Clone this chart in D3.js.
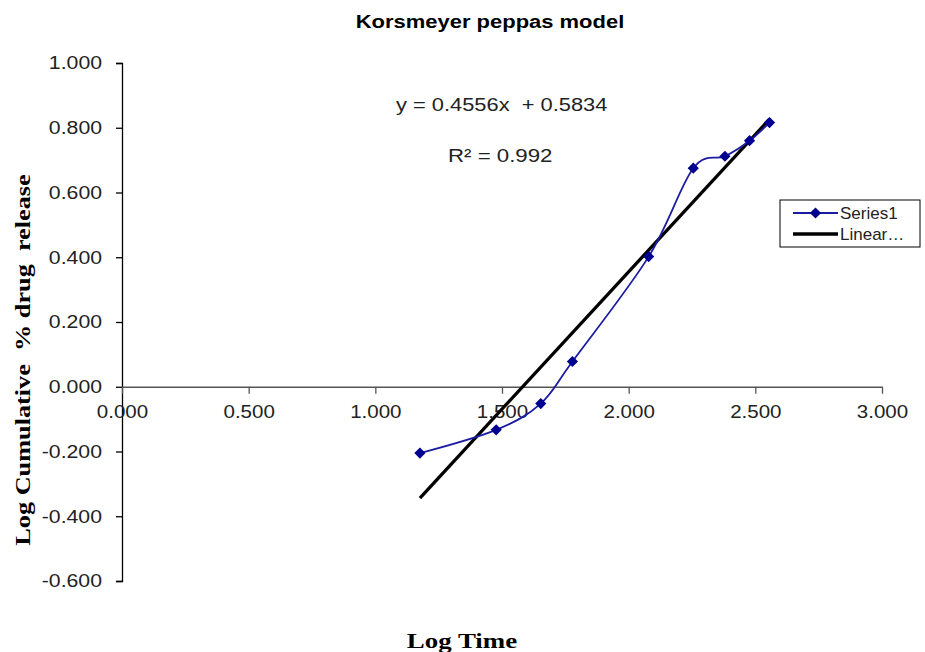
<!DOCTYPE html>
<html>
<head>
<meta charset="utf-8">
<script src="https://cdn.jsdelivr.net/npm/d3@7"></script>
<style>
  body { margin: 0; background: #fff; }
  text { font-family: "Liberation Sans", Arial, sans-serif; }
</style>
</head>
<body>
<div id="chart"></div>
<script>
// log time vs log cumulative % drug release
var logTime = [1.176, 1.477, 1.653, 1.778, 2.079, 2.255, 2.380, 2.477, 2.556];
var logRelease = [-0.205, -0.133, -0.052, 0.078, 0.402, 0.675, 0.712, 0.760, 0.816];
var xTicks = [0, 0.5, 1, 1.5, 2, 2.5, 3];
var yTicks = [-0.6, -0.4, -0.2, 0, 0.2, 0.4, 0.6, 0.8, 1.0];
var eqLabel = "y = 0.4556x  + 0.5834";
var r2Label = "R\u00b2 = 0.992";

var width = 925, height = 652;
var svg = d3.select("#chart").append("svg")
    .attr("width", width)
    .attr("height", height);

var x = d3.scaleLinear().domain([0, 3]).range([122, 882]);
var y = d3.scaleLinear().domain([-0.6, 1.0]).range([581, 63]);

var data = logTime.map(function(d, i){ return {x: d, y: logRelease[i]}; });

// the reference text is a bit wide, so stretch it horizontally
function widen(sel, k){
  sel.each(function(){
    var len = this.getComputedTextLength();
    d3.select(this).attr("textLength", len * k).attr("lengthAdjust", "spacingAndGlyphs");
  });
}

var fmt = function(d){ return d3.format(".3f")(d).replace("\u2212", "-"); };

// y axis
svg.append("g")
    .attr("transform", "translate(" + x(0) + ",0)")
    .call(d3.axisLeft(y).tickValues(yTicks).tickSize(6).tickPadding(14).tickFormat(fmt))
    .call(function(g){
      g.select(".domain").attr("stroke", "#000").attr("stroke-width", 1.3);
      g.selectAll(".tick line").attr("stroke", "#000").attr("stroke-width", 1.3);
      g.selectAll("text").attr("font-size", 18).attr("fill", "#222")
        .attr("font-family", "Liberation Sans, Arial, sans-serif")
        .call(widen, 1.18);
    });

// x axis at y = 0
svg.append("g")
    .attr("transform", "translate(0," + y(0) + ")")
    .call(d3.axisBottom(x).tickValues(xTicks).tickSize(7).tickSizeOuter(0).tickPadding(11).tickFormat(fmt))
    .call(function(g){
      g.select(".domain").attr("stroke", "#555").attr("stroke-width", 1.3);
      g.selectAll(".tick line").attr("stroke", "#555").attr("stroke-width", 1.3);
      g.selectAll("text").attr("font-size", 19).attr("fill", "#222")
        .attr("font-family", "Liberation Sans, Arial, sans-serif")
        .call(widen, 1.08);
    });

// linear trendline (least squares)
var mx = d3.mean(logTime), my = d3.mean(logRelease);
var sxy = d3.sum(data, function(d){ return (d.x - mx) * (d.y - my); });
var sxx = d3.sum(data, function(d){ return (d.x - mx) * (d.x - mx); });
var slope = sxy / sxx, icept = my - slope * mx;
var xr = d3.extent(logTime);

svg.append("line")
    .attr("x1", x(xr[0])).attr("y1", y(slope * xr[0] + icept))
    .attr("x2", x(xr[1])).attr("y2", y(slope * xr[1] + icept))
    .attr("stroke", "#000")
    .attr("stroke-width", 3.3);

// smoothed series line
var line = d3.line()
    .x(function(d){ return x(d.x); })
    .y(function(d){ return y(d.y); })
    .curve(d3.curveCardinal.tension(0));

svg.append("path")
    .datum(data)
    .attr("d", line)
    .attr("fill", "none")
    .attr("stroke", "#1c1ca3")
    .attr("stroke-width", 1.8);

var diamond = d3.symbol().type(d3.symbolDiamond2).size(80);
svg.selectAll(".pt")
    .data(data)
    .enter().append("path")
    .attr("class", "pt")
    .attr("transform", function(d){ return "translate(" + x(d.x) + "," + y(d.y) + ")"; })
    .attr("d", diamond)
    .attr("fill", "#000090");

// title and labels
svg.append("text")
    .attr("x", 490).attr("y", 28)
    .attr("text-anchor", "middle")
    .attr("font-size", 18).attr("font-weight", "bold")
    .text("Korsmeyer peppas model")
    .call(widen, 1.22);

svg.append("text")
    .attr("x", 396).attr("y", 111)
    .attr("font-size", 19).attr("fill", "#222")
    .style("white-space", "pre")
    .text(eqLabel)
    .call(widen, 1.15);

svg.append("text")
    .attr("x", 448).attr("y", 162)
    .attr("font-size", 19).attr("fill", "#222")
    .text(r2Label)
    .call(widen, 1.17);

svg.append("text")
    .attr("x", 462).attr("y", 648)
    .attr("text-anchor", "middle")
    .style("font-family", "'Liberation Serif', 'Times New Roman', serif")
    .attr("font-size", 21).attr("font-weight", "bold")
    .text("Log Time")
    .call(widen, 1.28);

svg.append("text")
    .attr("transform", "translate(30,360) rotate(-90)")
    .attr("text-anchor", "middle")
    .style("font-family", "'Liberation Serif', 'Times New Roman', serif")
    .style("white-space", "pre")
    .attr("font-size", 21).attr("font-weight", "bold")
    .text("Log Cumulative  % drug  release")
    .call(widen, 1.25);

// legend
var lg = svg.append("g").attr("transform", "translate(780,200)");
lg.append("rect")
    .attr("width", 140).attr("height", 47)
    .attr("fill", "#fff").attr("stroke", "#000").attr("stroke-width", 1);
lg.append("line")
    .attr("x1", 13).attr("x2", 58).attr("y1", 13).attr("y2", 13)
    .attr("stroke", "#1c1ca3").attr("stroke-width", 1.8);
lg.append("path")
    .attr("transform", "translate(35.5,13)")
    .attr("d", diamond)
    .attr("fill", "#000090");
lg.append("text").attr("x", 60).attr("y", 19).attr("font-size", 17).attr("fill", "#222").text("Series1");
lg.append("line")
    .attr("x1", 13).attr("x2", 58).attr("y1", 34).attr("y2", 34)
    .attr("stroke", "#000").attr("stroke-width", 3.3);
lg.append("text").attr("x", 60).attr("y", 40).attr("font-size", 17).attr("fill", "#222").text("Linear\u2026");
</script>
</body>
</html>
